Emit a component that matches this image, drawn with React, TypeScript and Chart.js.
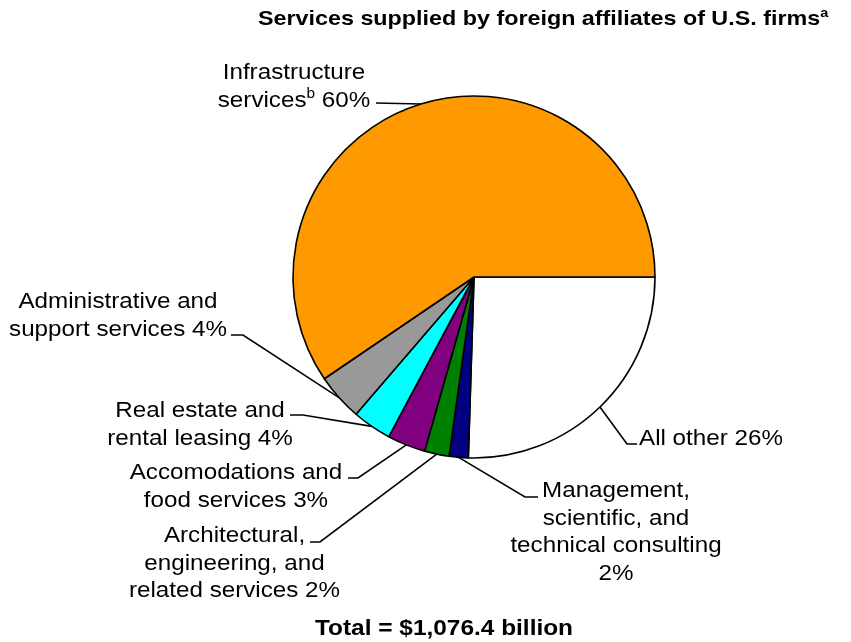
import React, { useEffect, useRef } from "react";
import { Chart, registerables } from "chart.js";

Chart.register(...registerables);

// ---- data (clockwise from 3 o'clock) ----
const categories = [
  "All other",
  "Management, scientific, and technical consulting",
  "Architectural, engineering, and related services",
  "Accomodations and food services",
  "Real estate and rental leasing",
  "Administrative and support services",
  "Infrastructure services",
];
const shares = [25.5, 1.7, 2.2, 3.4, 3.5, 4.2, 59.5];
const percentLabels = ["26%", "2%", "2%", "3%", "4%", "4%", "60%"];
const sliceColors = ["#FFFFFF", "#000080", "#008000", "#800080", "#00FFFF", "#999999", "#FF9900"];
const titleText = "Services supplied by foreign affiliates of U.S. firms{a}";
const totalText = "Total = $1,076.4 billion";

// label text lines per slice ({x} = superscript)
const labelLines: string[][] = [
  ["All other " + percentLabels[0]],
  ["Management,", "scientific, and", "technical consulting", percentLabels[1]],
  ["Architectural,", "engineering, and", "related services " + percentLabels[2]],
  ["Accomodations and", "food services " + percentLabels[3]],
  ["Real estate and", "rental leasing " + percentLabels[4]],
  ["Administrative and", "support services " + percentLabels[5]],
  ["Infrastructure", "services{b} " + percentLabels[6]],
];

// ---- layout (positions / styles) ----
const FONT_FAMILY = '"Liberation Sans", Arial, sans-serif';
const LINE_H = 27.5;
const labelPlacement = [
  { x: 639, y: 445, align: "left", elbow: [627, 444], end: [637, 444] },
  { x: 616, y: 497, align: "center", elbow: [525, 497], end: [538, 497] },
  { x: 234.5, y: 542, align: "center", elbow: [320, 542], end: [310, 542] },
  { x: 236, y: 479, align: "center", elbow: [358, 478], end: [348, 478] },
  { x: 200, y: 417, align: "center", elbow: [303, 415], end: [290, 415] },
  { x: 118, y: 308, align: "center", elbow: [243, 335], end: [231, 335] },
  { x: 294, y: 79, align: "center", elbow: [376, 103], end: [376, 103] },
];

type Seg = { t: string; sup: boolean };
function parse(line: string): Seg[] {
  const out: Seg[] = [];
  const re = /\{(\w+)\}/g;
  let last = 0;
  let m: RegExpExecArray | null;
  while ((m = re.exec(line))) {
    if (m.index > last) out.push({ t: line.slice(last, m.index), sup: false });
    out.push({ t: m[1], sup: true });
    last = m.index + m[0].length;
  }
  if (last < line.length) out.push({ t: line.slice(last), sup: false });
  return out;
}

function drawRich(
  ctx: CanvasRenderingContext2D,
  line: string,
  x: number,
  baseline: number,
  align: string,
  size: number,
  bold: boolean,
  sxScale: number
) {
  const segs = parse(line);
  const w = bold ? "bold " : "";
  const mainFont = `${w}${size}px ${FONT_FAMILY}`;
  const supFont = `${w}${Math.round(size * 0.62)}px ${FONT_FAMILY}`;
  let total = 0;
  const widths = segs.map((s) => {
    ctx.font = s.sup ? supFont : mainFont;
    const mw = ctx.measureText(s.t).width;
    total += mw;
    return mw;
  });
  let start = x;
  if (align === "center") start = x - (total * sxScale) / 2;
  else if (align === "right") start = x - total * sxScale;
  ctx.save();
  ctx.translate(start, baseline);
  ctx.scale(sxScale, 1);
  ctx.textAlign = "left";
  ctx.textBaseline = "alphabetic";
  ctx.fillStyle = "#000";
  let cx = 0;
  segs.forEach((s, i) => {
    ctx.font = s.sup ? supFont : mainFont;
    ctx.fillText(s.t, cx, s.sup ? -size * 0.38 : 0);
    cx += widths[i];
  });
  ctx.restore();
}

const labelPlugin = {
  id: "pieLabels",
  afterDraw(chart: any) {
    const ctx: CanvasRenderingContext2D = chart.ctx;
    const meta = chart.getDatasetMeta(0);
    ctx.save();
    meta.data.forEach((arc: any, i: number) => {
      const p = arc.getProps(["x", "y", "startAngle", "endAngle", "outerRadius"], true);
      const mid = (p.startAngle + p.endAngle) / 2;
      const sx = p.x + Math.cos(mid) * p.outerRadius;
      const sy = p.y + Math.sin(mid) * p.outerRadius;
      const pl = labelPlacement[i];
      ctx.beginPath();
      ctx.strokeStyle = "#000";
      ctx.lineWidth = 1.6;
      ctx.moveTo(sx, sy);
      ctx.lineTo(pl.elbow[0], pl.elbow[1]);
      ctx.lineTo(pl.end[0], pl.end[1]);
      ctx.stroke();
      labelLines[i].forEach((ln, k) => {
        drawRich(ctx, ln, pl.x, pl.y + k * LINE_H, pl.align, 22, false, 1.1);
      });
    });
    drawRich(ctx, titleText, 258, 25, "left", 21, true, 1.11);
    drawRich(ctx, totalText, 444, 635, "center", 22, true, 1.11);
    ctx.restore();
  },
};

export default function App() {
  const ref = useRef<HTMLCanvasElement | null>(null);
  useEffect(() => {
    if (!ref.current) return;
    const chart = new Chart(ref.current, {
      type: "pie",
      data: {
        labels: categories,
        datasets: [
          {
            data: shares,
            backgroundColor: sliceColors,
            borderColor: "#000000",
            borderWidth: 1.6,
          },
        ],
      },
      options: {
        animation: false,
        responsive: false,
        rotation: 90,
        radius: 181,
        layout: { padding: { left: 293, right: 196, top: 96, bottom: 184 } },
        plugins: {
          legend: { display: false },
          tooltip: { enabled: false },
          title: { display: false },
        },
        events: [],
      },
      plugins: [labelPlugin],
    } as any);
    return () => chart.destroy();
  }, []);
  return (
    <div style={{ position: "absolute", left: 0, top: 0, width: 851, height: 642, background: "#fff" }}>
      <canvas ref={ref} width={851} height={642} style={{ display: "block" }} />
    </div>
  );
}
